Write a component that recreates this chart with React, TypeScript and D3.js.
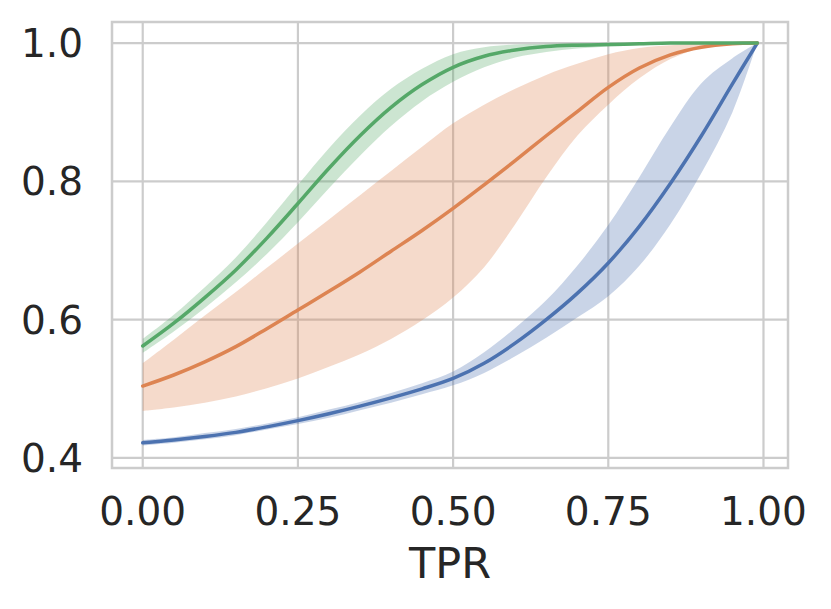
import { useEffect, useRef } from "react";
import * as d3 from "d3";

// TPR grid shared by every series
const tpr = [0, 0.05, 0.1, 0.15, 0.2, 0.25, 0.3, 0.35, 0.4, 0.45, 0.5, 0.55, 0.6, 0.65, 0.7, 0.75, 0.8, 0.85, 0.9, 0.95, 0.99];

const blueMean = [0.422, 0.426, 0.431, 0.437, 0.445, 0.454, 0.464, 0.475, 0.487, 0.5, 0.515, 0.537, 0.566, 0.6, 0.638, 0.682, 0.735, 0.797, 0.866, 0.941, 1.0];
const blueLo = [0.418, 0.422, 0.427, 0.433, 0.441, 0.449, 0.458, 0.469, 0.48, 0.492, 0.505, 0.523, 0.547, 0.574, 0.603, 0.634, 0.678, 0.738, 0.812, 0.9, 1.0];
const blueHi = [0.426, 0.43, 0.436, 0.442, 0.45, 0.459, 0.47, 0.481, 0.494, 0.508, 0.525, 0.553, 0.588, 0.628, 0.678, 0.737, 0.806, 0.879, 0.942, 0.978, 1.0];

const orangeMean = [0.504, 0.52, 0.539, 0.561, 0.587, 0.614, 0.641, 0.669, 0.699, 0.729, 0.761, 0.795, 0.83, 0.866, 0.901, 0.936, 0.964, 0.983, 0.994, 0.999, 1.0];
const orangeLo = [0.468, 0.473, 0.48, 0.489, 0.501, 0.515, 0.532, 0.55, 0.572, 0.599, 0.632, 0.676, 0.738, 0.806, 0.866, 0.911, 0.949, 0.977, 0.993, 0.999, 1.0];
const orangeHi = [0.537, 0.571, 0.606, 0.64, 0.675, 0.71, 0.745, 0.78, 0.815, 0.85, 0.884, 0.911, 0.934, 0.954, 0.97, 0.984, 0.993, 0.997, 0.999, 1.0, 1.0];

const greenMean = [0.562, 0.595, 0.632, 0.672, 0.718, 0.768, 0.819, 0.866, 0.907, 0.94, 0.965, 0.981, 0.99, 0.995, 0.997, 0.998, 0.999, 1.0, 1.0, 1.0, 1.0];
const greenLo = [0.552, 0.583, 0.617, 0.654, 0.695, 0.741, 0.79, 0.837, 0.88, 0.916, 0.944, 0.965, 0.979, 0.987, 0.992, 0.995, 0.997, 0.999, 0.9995, 1.0, 1.0];
const greenHi = [0.572, 0.607, 0.647, 0.69, 0.741, 0.795, 0.848, 0.895, 0.934, 0.963, 0.984, 0.994, 0.998, 0.999, 1.0, 1.0, 1.0, 1.0, 1.0, 1.0, 1.0];

const xTicks = [0, 0.25, 0.5, 0.75, 1.0];
const yTicks = [0.4, 0.6, 0.8, 1.0];

const series = [
  { color: "#4c72b0", mean: blueMean, lo: blueLo, hi: blueHi },
  { color: "#dd8452", mean: orangeMean, lo: orangeLo, hi: orangeHi },
  { color: "#55a868", mean: greenMean, lo: greenLo, hi: greenHi },
];

export default function App() {
  const svgRef = useRef<SVGSVGElement | null>(null);

  useEffect(() => {
    const svg = d3.select(svgRef.current);
    const width = 831;
    const height = 609;
    const margin = { top: 22, right: 43, bottom: 141, left: 112 };
    const font = "'DejaVu Sans', sans-serif";
    const ink = "#262626";

    svg.selectAll("*").remove();
    svg.attr("width", width).attr("height", height).attr("viewBox", `0 0 ${width} ${height}`);

    const x = d3.scaleLinear().domain([-0.0495, 1.0395]).range([margin.left, width - margin.right]);
    const y = d3.scaleLinear().domain([0.3855, 1.0305]).range([height - margin.bottom, margin.top]);

    // grid
    const grid = svg.append("g").attr("stroke", "#cccccc").attr("stroke-width", 2.2);
    grid.selectAll("line.gx").data(xTicks).enter().append("line")
      .attr("x1", (d) => x(d)).attr("x2", (d) => x(d))
      .attr("y1", margin.top).attr("y2", height - margin.bottom);
    grid.selectAll("line.gy").data(yTicks).enter().append("line")
      .attr("y1", (d) => y(d)).attr("y2", (d) => y(d))
      .attr("x1", margin.left).attr("x2", width - margin.right);

    const idx = d3.range(tpr.length);
    const curve = d3.curveCatmullRom.alpha(0.5);

    // bands under all lines (matplotlib zorder)
    series.forEach((s) => {
      const area = d3.area<number>()
        .x((i) => x(tpr[i]))
        .y0((i) => y(s.lo[i]))
        .y1((i) => y(s.hi[i]))
        .curve(curve);
      svg.append("path").attr("d", area(idx)).attr("fill", s.color).attr("fill-opacity", 0.3);
    });

    series.forEach((s) => {
      const line = d3.line<number>()
        .x((i) => x(tpr[i]))
        .y((i) => y(s.mean[i]))
        .curve(curve);
      svg.append("path").attr("d", line(idx))
        .attr("fill", "none").attr("stroke", s.color)
        .attr("stroke-width", 3.5).attr("stroke-linecap", "round");
    });

    // frame
    svg.append("rect")
      .attr("x", margin.left).attr("y", margin.top)
      .attr("width", width - margin.left - margin.right)
      .attr("height", height - margin.top - margin.bottom)
      .attr("fill", "none").attr("stroke", "#cccccc").attr("stroke-width", 2.5);

    // tick labels
    svg.append("g").selectAll("text").data(xTicks).enter().append("text")
      .attr("x", (d) => x(d)).attr("y", 525)
      .attr("text-anchor", "middle")
      .attr("font-family", font).attr("font-size", 39).attr("fill", ink)
      .text((d) => d3.format(".2f")(d));

    svg.append("g").selectAll("text").data(yTicks).enter().append("text")
      .attr("x", 83).attr("y", (d) => y(d))
      .attr("dy", "0.36em")
      .attr("text-anchor", "end")
      .attr("font-family", font).attr("font-size", 39).attr("fill", ink)
      .text((d) => d3.format(".1f")(d));

    svg.append("text")
      .attr("x", (margin.left + width - margin.right) / 2).attr("y", 578)
      .attr("text-anchor", "middle")
      .attr("font-family", font).attr("font-size", 43).attr("fill", ink)
      .text("TPR");
  }, []);

  return (
    <svg ref={svgRef} style={{ position: "absolute", left: 0, top: 0, background: "#fff" }} />
  );
}
